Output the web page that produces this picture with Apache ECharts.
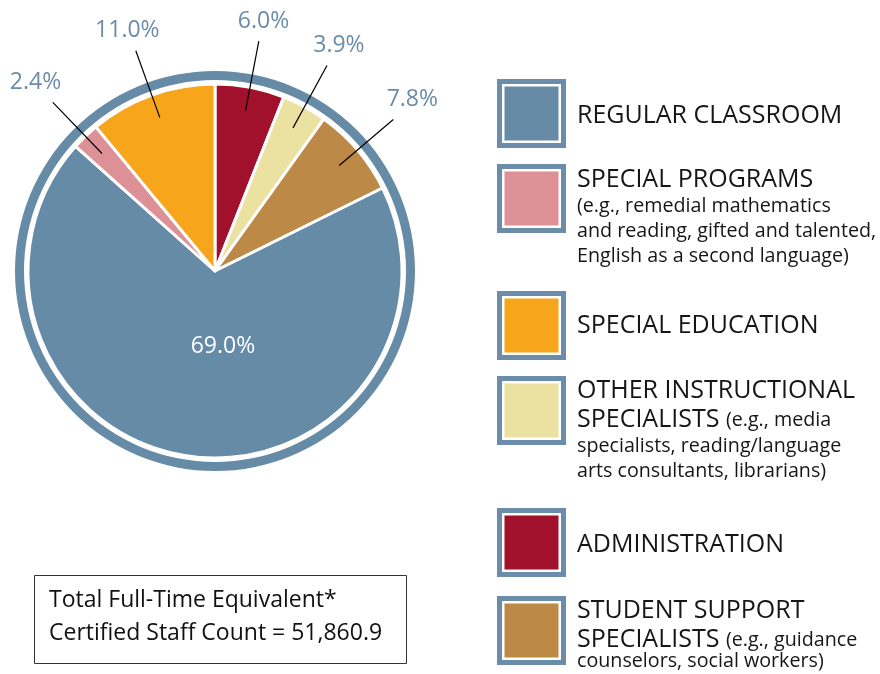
<!DOCTYPE html>
<html><head><meta charset="utf-8">
<script src="https://cdn.jsdelivr.net/npm/echarts@6/dist/echarts.min.js"></script>
<style>html,body{margin:0;padding:0;background:#fff}#c{width:880px;height:674px}</style>
</head><body><div id="c"></div>
<script>
// ---- data ----
const categories = ['REGULAR CLASSROOM', 'SPECIAL PROGRAMS', 'SPECIAL EDUCATION',
  'OTHER INSTRUCTIONAL SPECIALISTS', 'ADMINISTRATION', 'STUDENT SUPPORT SPECIALISTS'];
const values = [69.0, 2.4, 11.0, 3.9, 6.0, 7.8];
const colors = ['#668BA7', '#DD9196', '#F7A51B', '#EBE1A1', '#A2112B', '#BD8946'];
const pieOrder = [4, 3, 5, 0, 1, 2]; // clockwise from 12 o'clock
const legendLines = [
  ['{t|REGULAR CLASSROOM}'],
  ['{t|SPECIAL PROGRAMS}', '{n|(e.g., remedial mathematics}', '{n|and reading, gifted and talented,}', '{n|English as a second language)}'],
  ['{t|SPECIAL EDUCATION}'],
  ['{t|OTHER INSTRUCTIONAL}', '{t|SPECIALISTS }{n|(e.g., media}', '{n|specialists, reading/language}', '{n|arts consultants, librarians)}'],
  ['{t|ADMINISTRATION}'],
  ['{t|STUDENT SUPPORT}', '{t|SPECIALISTS }{n|(e.g., guidance}', '{n|counselors, social workers)}']
];
const totalText = ['Total Full-Time Equivalent*', 'Certified Staff Count = 51,860.9'];

// ---- layout / style ----
const FONT = "'Open Sans', sans-serif";
const CX = 215, CY = 271, R = 187;
const ringBlue = '#668BA7';
const labelBlue = '#6A8CA8';
const legendTops = [79, 164, 291, 376, 508, 596];
const legendBaselines = [[44], [23, 49, 74, 99], [42], [22, 51, 77, 102], [44], [22, 51, 72]];

const pieData = pieOrder.map(i => ({
  name: categories[i], value: values[i], itemStyle: { color: colors[i] }
}));
const total = pieData.reduce((s, d) => s + d.value, 0);
const midAngles = [];
{ let acc = 0; pieData.forEach(d => { midAngles.push((acc + d.value / 2) / total * 360); acc += d.value; }); }
const insideIdx = pieOrder.indexOf(0);

// overlay copy (transparent sectors) carrying labels and leader lines above the slices
const labelData = pieOrder.map((i, k) => {
  const d = { name: categories[i], value: values[i], itemStyle: { color: 'rgba(0,0,0,0)' } };
  if (k === insideIdx) {
    d.label = { position: 'inside', color: '#fff' };
    d.labelLine = { show: false };
  }
  return d;
});

function polar(r, deg) {
  const a = deg * Math.PI / 180;
  return [CX + r * Math.sin(a), CY - r * Math.cos(a)];
}

const chart = echarts.init(document.getElementById('c'), null, { renderer: 'canvas' });

const graphics = [];
graphics.push({ type: 'ring', z: 1, shape: { cx: CX, cy: CY, r: 200, r0: 191 }, style: { fill: ringBlue } });
legendLines.forEach((lines, k) => {
  const top = legendTops[k];
  graphics.push({ type: 'rect', shape: { x: 497, y: top, width: 69, height: 69 }, style: { fill: '#6B8DA9' } });
  graphics.push({ type: 'rect', shape: { x: 502, y: top + 5, width: 59, height: 59 }, style: { fill: '#fff' } });
  graphics.push({ type: 'rect', shape: { x: 504.5, y: top + 7.5, width: 54, height: 54 }, style: { fill: colors[k] } });
  lines.forEach((ln, j) => {
    graphics.push({
      type: 'text', x: 577, y: top + legendBaselines[k][j] - 7,
      style: {
        text: ln, verticalAlign: 'middle', align: 'left',
        rich: {
          t: { fontFamily: FONT, fontSize: 25, fill: '#161616', color: '#161616' },
          n: { fontFamily: FONT, fontSize: 19.7, fill: '#161616', color: '#161616' }
        }
      }
    });
  });
});
graphics.push({ type: 'rect', shape: { x: 34.5, y: 575.5, width: 372, height: 88 }, style: { fill: '#fff', stroke: '#333', lineWidth: 1 } });
totalText.forEach((t, j) => {
  graphics.push({ type: 'text', x: 49, y: 608 + j * 33 - 8,
    style: { text: t, fontFamily: FONT, fontSize: 23, fill: '#111', verticalAlign: 'middle', align: 'left' } });
});

chart.setOption({
  animation: false,
  backgroundColor: '#fff',
  graphic: { elements: graphics },
  series: [{
    type: 'pie',
    z: 2,
    center: [CX, CY],
    radius: [0, R],
    startAngle: 90,
    clockwise: true,
    silent: true,
    itemStyle: { borderColor: '#fff', borderWidth: 3 },
    label: { show: false },
    labelLine: { show: false },
    emphasis: { disabled: true },
    data: pieData
  }, {
    type: 'pie',
    z: 5,
    center: [CX, CY],
    radius: [0, R],
    startAngle: 90,
    clockwise: true,
    silent: true,
    avoidLabelOverlap: false,
    itemStyle: { borderWidth: 0 },
    label: {
      show: true, position: 'outside',
      fontFamily: FONT, fontSize: 23, color: labelBlue,
      formatter: p => p.value.toFixed(1) + '%'
    },
    labelLine: { show: true, showAbove: true, lineStyle: { color: '#000', width: 1.2 } },
    labelLayout: function (params) {
      const i = params.dataIndex;
      if (i === insideIdx) {
        const p = polar(76, 174);
        return { x: p[0], y: p[1], align: 'center', verticalAlign: 'middle' };
      }
      const a = midAngles[i];
      const p1 = polar(163, a), p2 = polar(234, a);
      const rad = a * Math.PI / 180;
      return { x: p2[0] + 25 * Math.sin(rad), y: p2[1] - 20, align: 'center', verticalAlign: 'middle',
        labelLinePoints: [p1, p2, p2] };
    },
    emphasis: { disabled: true },
    data: labelData
  }]
});
</script></body></html>
